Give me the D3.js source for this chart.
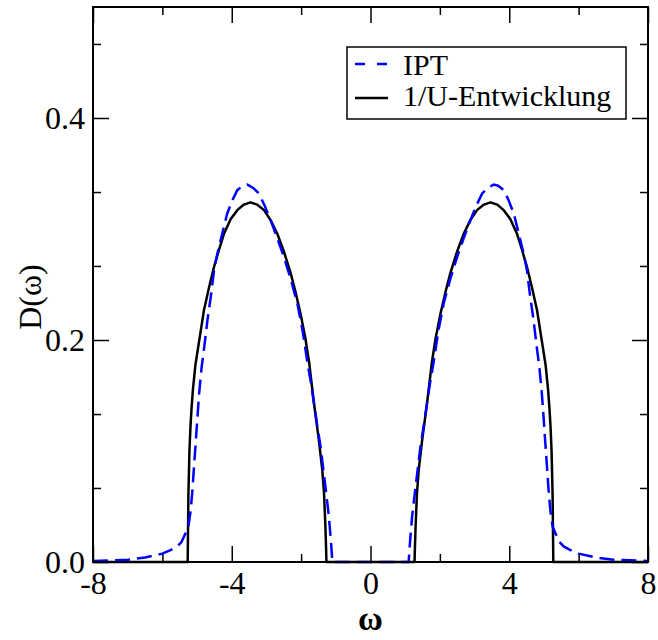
<!DOCTYPE html>
<html>
<head>
<meta charset="utf-8">
<script src="https://cdn.jsdelivr.net/npm/d3@7"></script>
<style>
  body { margin: 0; background: #fff; }
</style>
</head>
<body>
<svg width="658" height="640"></svg>
<script>
// IPT curve (blue dashed): omega, D(omega)
const iptW = [-8, -7.5, -7, -6.5, -6, -5.75, -5.57, -5.45, -5.33, -5.25, -5.19, -5.14, -5.09, -5.04, -4.99, -4.94,
  -4.87, -4.78, -4.7, -4.6, -4.51, -4.42, -4.32, -4.13, -3.98, -3.84, -3.68, -3.55, -3.38, -3.22, -3.05, -2.88,
  -2.69, -2.5, -2.3, -2.11, -1.95, -1.82, -1.72, -1.63, -1.53, -1.44, -1.37, -1.3, -1.24, -1.2, -1.16, -1.13, -1.11, -1.1,
  1.1, 1.11, 1.13, 1.16, 1.2, 1.24, 1.3, 1.37, 1.44, 1.53, 1.63, 1.72, 1.82, 1.95, 2.11, 2.3, 2.5, 2.69,
  2.88, 3.05, 3.22, 3.38, 3.55, 3.68, 3.84, 3.98, 4.13, 4.32, 4.42, 4.51, 4.6, 4.7, 4.78, 4.87,
  4.94, 4.99, 5.04, 5.09, 5.14, 5.19, 5.25, 5.33, 5.45, 5.57, 5.75, 6, 6.5, 7, 7.5, 8];
const iptD = [0.001, 0.0015, 0.002, 0.004, 0.0075, 0.011, 0.014, 0.018, 0.026, 0.032, 0.045, 0.062, 0.085, 0.107, 0.13, 0.152,
  0.175, 0.197, 0.218, 0.24, 0.263, 0.277, 0.29, 0.314, 0.326, 0.335, 0.339, 0.34, 0.337, 0.332, 0.321, 0.308,
  0.292, 0.275, 0.255, 0.233, 0.207, 0.18, 0.162, 0.143, 0.122, 0.104, 0.086, 0.068, 0.052, 0.041, 0.026, 0.014, 0.005, 0,
  0, 0.005, 0.014, 0.026, 0.041, 0.052, 0.068, 0.086, 0.104, 0.122, 0.143, 0.162, 0.18, 0.207, 0.233, 0.255, 0.275, 0.292,
  0.308, 0.321, 0.332, 0.337, 0.34, 0.339, 0.335, 0.326, 0.314, 0.29, 0.277, 0.263, 0.24, 0.218, 0.197, 0.175,
  0.152, 0.13, 0.107, 0.085, 0.062, 0.045, 0.032, 0.026, 0.018, 0.014, 0.011, 0.0075, 0.004, 0.002, 0.0015, 0.001];

// 1/U-Entwicklung (black solid)
const uW = [-8, -5.27, -5.25, -5.22, -5.19, -5.16, -5.12, -5.05, -4.92, -4.8, -4.65, -4.51, -4.36, -4.22, -4.03, -3.84,
  -3.65, -3.46, -3.27, -3.07, -2.88, -2.69, -2.5, -2.3, -2.16, -2.02, -1.88, -1.77, -1.63, -1.49, -1.39, -1.34, -1.3, -1.28, -1.27,
  1.27, 1.28, 1.3, 1.34, 1.39, 1.49, 1.63, 1.77, 1.88, 2.02, 2.16, 2.3, 2.5, 2.69, 2.88, 3.07, 3.27,
  3.46, 3.65, 3.84, 4.03, 4.22, 4.36, 4.51, 4.65, 4.8, 4.92, 5.05, 5.12, 5.16, 5.19, 5.22, 5.25, 5.27, 8];
const uD = [0, 0, 0.06, 0.1, 0.122, 0.138, 0.155, 0.177, 0.203, 0.227, 0.248, 0.266, 0.282, 0.296, 0.309, 0.317,
  0.322, 0.324, 0.322, 0.317, 0.308, 0.296, 0.28, 0.26, 0.243, 0.224, 0.202, 0.18, 0.143, 0.11, 0.083, 0.062, 0.032, 0.012, 0,
  0, 0.012, 0.032, 0.062, 0.083, 0.11, 0.143, 0.18, 0.202, 0.224, 0.243, 0.26, 0.28, 0.296, 0.308, 0.317, 0.322,
  0.324, 0.322, 0.317, 0.309, 0.296, 0.282, 0.266, 0.248, 0.227, 0.203, 0.177, 0.155, 0.138, 0.122, 0.1, 0.06, 0, 0];

const xTicks = [-8, -4, 0, 4, 8];
const xMinor = [-6, -2, 2, 6];
const yTicks = [0, 0.2, 0.4];
const yMinor = [0.0667, 0.1333, 0.2667, 0.3333, 0.4667];

const FONT = "Times, 'Nimbus Roman', 'Nimbus Roman No9 L', FreeSerif, 'Noto Serif', 'Liberation Serif', 'DejaVu Serif', serif";

const svg = d3.select("svg");
const area = { left: 93, top: 7, width: 555, height: 555 };

const scX = d3.scaleLinear().domain([-8, 8]).range([0, area.width]);
const scY = d3.scaleLinear().domain([0, 0.5]).range([area.height, 0]);

const g = svg.append("g").attr("transform", `translate(${area.left}, ${area.top})`);

// оси: основные и промежуточные деления внутрь
function styleAxis(sel) {
  sel.attr("font-family", FONT);
  sel.select(".domain").remove();
  sel.selectAll("line").attr("stroke", "#000").attr("stroke-width", 1.5);
  sel.selectAll("text").attr("font-size", 32).attr("fill", "#000");
}

g.append("g").attr("transform", `translate(0, ${area.height})`)
  .call(d3.axisBottom(scX).tickValues(xTicks).tickSize(-16).tickPadding(9).tickFormat(d => String(d)))
  .call(styleAxis);
g.append("g").attr("transform", `translate(0, ${area.height})`)
  .call(d3.axisBottom(scX).tickValues(xMinor).tickSize(-8).tickFormat(""))
  .call(styleAxis);
g.append("g")
  .call(d3.axisTop(scX).tickValues(xTicks).tickSize(-16).tickFormat(""))
  .call(styleAxis);
g.append("g")
  .call(d3.axisTop(scX).tickValues(xMinor).tickSize(-8).tickFormat(""))
  .call(styleAxis);

g.append("g")
  .call(d3.axisLeft(scY).tickValues(yTicks).tickSize(-16).tickPadding(8).tickFormat(d3.format(".1f")))
  .call(styleAxis);
g.append("g")
  .call(d3.axisLeft(scY).tickValues(yMinor).tickSize(-8).tickFormat(""))
  .call(styleAxis);
g.append("g").attr("transform", `translate(${area.width}, 0)`)
  .call(d3.axisRight(scY).tickValues(yTicks).tickSize(-16).tickFormat(""))
  .call(styleAxis);
g.append("g").attr("transform", `translate(${area.width}, 0)`)
  .call(d3.axisRight(scY).tickValues(yMinor).tickSize(-8).tickFormat(""))
  .call(styleAxis);

// кривые
const line = d3.line().x(d => scX(d[0])).y(d => scY(d[1]));

g.append("path")
  .datum(uW.map((w, i) => [w, uD[i]]))
  .attr("d", line)
  .attr("fill", "none")
  .attr("stroke", "#000")
  .attr("stroke-width", 2.5)
  .attr("stroke-linejoin", "round");

g.append("path")
  .datum(iptW.map((w, i) => [w, iptD[i]]))
  .attr("d", line)
  .attr("fill", "none")
  .attr("stroke", "#0000ff")
  .attr("stroke-width", 2.5)
  .attr("stroke-dasharray", "15,7");

// рамка
g.append("rect")
  .attr("width", area.width).attr("height", area.height)
  .attr("fill", "none").attr("stroke", "#000").attr("stroke-width", 2);

// подписи осей
svg.append("text")
  .attr("x", area.left + scX(0)).attr("y", 630)
  .attr("text-anchor", "middle").attr("font-size", 34)
  .attr("font-weight", "bold")
  .attr("font-family", FONT)
  .text("ω");

svg.append("text")
  .attr("transform", "translate(41, 297) rotate(-90)")
  .attr("text-anchor", "middle").attr("font-size", 32)
  .attr("font-family", FONT)
  .text("D(ω)");

// легенда
const leg = svg.append("g").attr("font-family", FONT);
leg.append("rect")
  .attr("x", 347).attr("y", 47).attr("width", 279).attr("height", 72)
  .attr("fill", "#fff").attr("stroke", "#000").attr("stroke-width", 1.5);
leg.append("line")
  .attr("x1", 355).attr("x2", 388).attr("y1", 64).attr("y2", 64)
  .attr("stroke", "#0000ff").attr("stroke-width", 2.5).attr("stroke-dasharray", "10,12");
leg.append("text").attr("x", 403).attr("y", 75).attr("font-size", 30).text("IPT");
leg.append("line")
  .attr("x1", 355).attr("x2", 388).attr("y1", 98).attr("y2", 98)
  .attr("stroke", "#000").attr("stroke-width", 2.5);
leg.append("text").attr("x", 403).attr("y", 106).attr("font-size", 30).text("1/U-Entwicklung");
</script>
</body>
</html>
